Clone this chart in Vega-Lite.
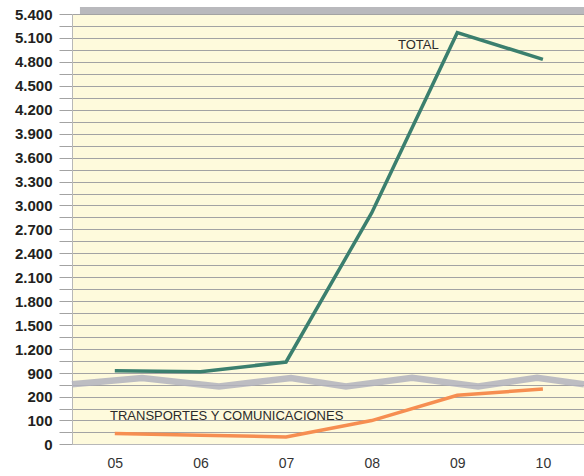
{
  "$schema": "https://vega.github.io/schema/vega-lite/v6.json",
  "width": 512,
  "height": 430,
  "autosize": {"type": "none"},
  "padding": {"left": 72, "top": 14, "right": 0, "bottom": 32},
  "background": "white",
  "config": {
    "view": {"fill": "#fefadc", "stroke": null},
    "font": "Liberation Sans"
  },
  "datasets": {
    "series": [
      {"year": 2005, "value": 929, "series": "TOTAL"},
      {"year": 2006, "value": 916, "series": "TOTAL"},
      {"year": 2007, "value": 1038, "series": "TOTAL"},
      {"year": 2008, "value": 2906, "series": "TOTAL"},
      {"year": 2009, "value": 5166, "series": "TOTAL"},
      {"year": 2010, "value": 4832, "series": "TOTAL"},
      {"year": 2005, "value": 44, "series": "TRANSPORTES Y COMUNICACIONES"},
      {"year": 2006, "value": 37, "series": "TRANSPORTES Y COMUNICACIONES"},
      {"year": 2007, "value": 30, "series": "TRANSPORTES Y COMUNICACIONES"},
      {"year": 2008, "value": 99, "series": "TRANSPORTES Y COMUNICACIONES"},
      {"year": 2009, "value": 206, "series": "TRANSPORTES Y COMUNICACIONES"},
      {"year": 2010, "value": 232, "series": "TRANSPORTES Y COMUNICACIONES"}
    ],
    "brk": [
      {"year": 2004.5, "value": 252},
      {"year": 2005.318, "value": 279},
      {"year": 2006.217, "value": 243},
      {"year": 2007.058, "value": 279},
      {"year": 2007.7, "value": 243},
      {"year": 2008.472, "value": 280},
      {"year": 2009.243, "value": 243},
      {"year": 2009.932, "value": 280},
      {"year": 2010.48, "value": 252}
    ],
    "labels": [
      {"year": 2008.308, "value": 4957, "text": "TOTAL"},
      {"year": 2004.944, "value": 102, "text": "TRANSPORTES Y COMUNICACIONES"}
    ],
    "topband": [
      {"x0": 2004.593, "x1": 2010.48, "v0": 5400, "v1": 5488}
    ]
  },
  "layer": [
    {
      "data": {"name": "brk"},
      "mark": {"type": "line", "strokeWidth": 6.5, "color": "#b2b2bd", "opacity": 0.85, "strokeJoin": "miter"},
      "encoding": {
        "x": {
          "field": "year",
          "type": "quantitative",
          "scale": {"domain": [2004.5, 2010.48], "nice": false, "zero": false},
          "axis": {
            "title": null,
            "values": [2005, 2006, 2007, 2008, 2009, 2010],
            "tickCount": 100,
            "labelExpr": "substring(toString(datum.value), 2)",
            "ticks": false,
            "grid": false,
            "domain": true,
            "domainColor": "#b8b8b8",
            "labelFont": "Liberation Sans",
            "labelFontSize": 14,
            "labelColor": "#333333",
            "labelPadding": 12,
            "labelOverlap": false,
            "labelFlush": false
          }
        },
        "y": {
          "field": "value",
          "type": "quantitative",
          "scale": {"type": "linear", "domain": [0, 300, 900, 5400], "range": [430, 359, 359, 0], "nice": false, "zero": false},
          "axis": {
            "title": null,
            "values": [0, 50, 100, 150, 200, 250, 900, 1050, 1200, 1350, 1500, 1650, 1800, 1950, 2100, 2250, 2400, 2550, 2700, 2850, 3000, 3150, 3300, 3450, 3600, 3750, 3900, 4050, 4200, 4350, 4500, 4650, 4800, 4950, 5100, 5250, 5400],
            "tickCount": 100,
            "labelExpr": "(datum.value < 300 ? datum.value % 100 == 0 : datum.value % 300 == 0) ? replace(format(datum.value, ','), ',', '.') : ''",
            "grid": true,
            "gridColor": "#a3a3a3",
            "gridWidth": 1,
            "tickSize": 13,
            "tickColor": "#a3a3a3",
            "domain": true,
            "domainColor": "#b8b8b8",
            "labelFont": "Liberation Sans",
            "labelFontWeight": "bold",
            "labelFontSize": 15,
            "labelColor": "#231f20",
            "labelPadding": 7,
            "labelOverlap": false,
            "labelFlush": false
          }
        }
      }
    },
    {
      "data": {"name": "series"},
      "mark": {"type": "line", "strokeWidth": 3.5, "strokeJoin": "miter"},
      "encoding": {
        "x": {"field": "year", "type": "quantitative"},
        "y": {"field": "value", "type": "quantitative"},
        "color": {
          "field": "series",
          "type": "nominal",
          "scale": {"domain": ["TOTAL", "TRANSPORTES Y COMUNICACIONES"], "range": ["#3b7f6e", "#f68e51"]},
          "legend": null
        }
      }
    },
    {
      "data": {"name": "labels"},
      "mark": {"type": "text", "align": "left", "baseline": "alphabetic", "fontSize": 13, "font": "Liberation Sans", "color": "#2b2b2b"},
      "encoding": {
        "x": {"field": "year", "type": "quantitative"},
        "y": {"field": "value", "type": "quantitative"},
        "text": {"field": "text", "type": "nominal"}
      }
    },
    {
      "data": {"name": "topband"},
      "mark": {"type": "rect", "color": "#b9b9bd"},
      "encoding": {
        "x": {"field": "x0", "type": "quantitative"},
        "x2": {"field": "x1"},
        "y": {"field": "v0", "type": "quantitative"},
        "y2": {"field": "v1"}
      }
    }
  ]
}
